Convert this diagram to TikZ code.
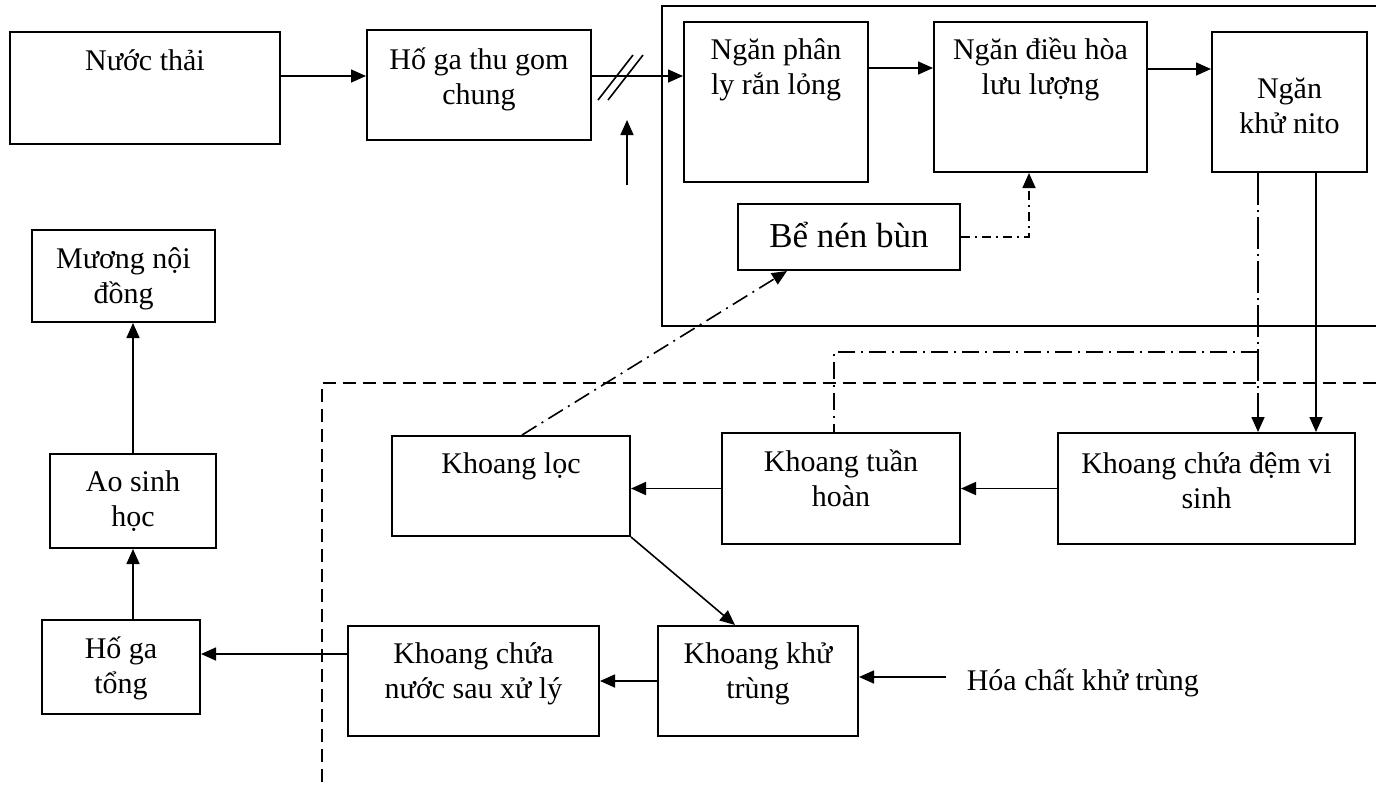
\documentclass[tikz,border=0pt]{standalone}
\usepackage{fontspec}
\setmainfont{Liberation Serif}
\usetikzlibrary{arrows.meta}

\tikzset{
	hop/.style = {draw, line width = 1pt, inner sep = 0pt},
	chu/.style = {font = \fontsize{15}{17.5}\selectfont, align = center, inner sep = 0pt, anchor = base},
	chamdai/.style = {dash pattern = on 16pt off 2.5pt on 1pt off 2.5pt},
	chamvua/.style = {dash pattern = on 8.5pt off 3pt on 1pt off 3pt},
	chamngan/.style = {dash pattern = on 4.5pt off 2.5pt on 1pt off 2.5pt},
	netdut/.style = {dash pattern = on 6.5pt off 3.5pt},
}

\begin{document}
\begin{tikzpicture}[x = 0.5pt, y = -0.5pt, line width = 0.8pt, > = {Triangle[length = 7.5pt, width = 6.5pt]}]

	\useasboundingbox (0, 0) rectangle (1376, 789);

	% Khung cua be xu ly
	\draw [line width = 1pt] (1376, 6) -- (662, 6) -- (662, 326) -- (1376, 326);
	\draw [netdut] (1376, 383) -- (322, 383) -- (322, 789);

	% Cac hop
	\node [hop, minimum width = 135pt, minimum height = 56pt] (nuoc) at (145, 88) {};
	\node [hop, minimum width = 112pt, minimum height = 55pt] (hoga) at (479, 85) {};
	\node [hop, minimum width = 92pt, minimum height = 80pt] (phanly) at (776, 102) {};
	\node [hop, minimum width = 106.5pt, minimum height = 75pt] (dieuhoa) at (1040.5, 97) {};
	\node [hop, minimum width = 77.5pt, minimum height = 70pt] (khunito) at (1289.5, 102) {};
	\node [hop, minimum width = 111pt, minimum height = 33pt] (benen) at (849, 237) {};
	\node [hop, minimum width = 91.5pt, minimum height = 46pt] (muong) at (123.5, 276) {};
	\node [hop, minimum width = 83pt, minimum height = 47pt] (aosinh) at (133, 501) {};
	\node [hop, minimum width = 79pt, minimum height = 47pt] (hogatong) at (121, 667) {};
	\node [hop, minimum width = 119pt, minimum height = 50pt] (loc) at (511, 486) {};
	\node [hop, minimum width = 119pt, minimum height = 55.5pt] (tuanhoan) at (841, 488.5) {};
	\node [hop, minimum width = 148.5pt, minimum height = 55.5pt] (dem) at (1206.5, 488.5) {};
	\node [hop, minimum width = 100pt, minimum height = 55pt] (khutrung) at (758, 681) {};
	\node [hop, minimum width = 125.5pt, minimum height = 55pt] (chuanuoc) at (473.5, 681) {};

	% Chu trong hop (base = dong cuoi)
	\node [chu] (nuoc-t) at (145, 70) {Nước thải};
	\node [chu] (hoga-t) at (479, 104) {Hố ga thu gom\\chung};
	\node [chu] (phanly-t) at (776, 94) {Ngăn phân\\ly rắn lỏng};
	\node [chu] (dieuhoa-t) at (1040.5, 94) {Ngăn điều hòa\\lưu lượng};
	\node [chu] (khunito-t) at (1289.5, 133) {Ngăn\\khử nito};
	\node [chu, font = \fontsize{17.5}{20}\selectfont] (benen-t) at (849, 247) {Bể nén bùn};
	\node [chu] (muong-t) at (123.5, 303) {Mương nội\\đồng};
	\node [chu] (aosinh-t) at (133, 526) {Ao sinh\\học};
	\node [chu] (hogatong-t) at (121, 693) {Hố ga\\tổng};
	\node [chu] (loc-t) at (511, 473) {Khoang lọc};
	\node [chu] (tuanhoan-t) at (841, 506) {Khoang tuần\\hoàn};
	\node [chu] (dem-t) at (1206.5, 508) {Khoang chứa đệm vi\\sinh};
	\node [chu] (khutrung-t) at (758, 698) {Khoang khử\\trùng};
	\node [chu] (chuanuoc-t) at (473.5, 698) {Khoang chứa\\nước sau xử lý};
	\node [chu, anchor = base west] (hoachat) at (966, 690) {Hóa chất khử trùng};

	% Diem dau cua cac mui ten
	\coordinate (c-nuoc) at ([yshift = 6pt] nuoc.east);
	\coordinate (c-hoga) at ([yshift = 4.5pt] hoga.east);
	\coordinate (c-phanly) at ([yshift = 17pt] phanly.east);
	\coordinate (c-dieuhoa) at ([yshift = 14pt] dieuhoa.east);
	\coordinate (c-kn1) at ([xshift = -15.75pt] khunito.south);
	\coordinate (c-kn2) at ([xshift = 13.25pt] khunito.south);
	\coordinate (c-nhanh) at (c-kn1 |- 0, 352);
	\coordinate (c-chuanuoc) at ([yshift = 13.5pt] chuanuoc.west);
	\coordinate (c-hoachat) at ([xshift = -10pt, yshift = 6.5pt] hoachat.base west);
	\coordinate (c-vao-duoi) at (627, 185);
	\coordinate (c-vao-tren) at (627, 120);

	\begin{scope}[->]

		\draw (c-nuoc) -- (c-nuoc -| hoga.west);
		\draw (c-hoga) -- (c-hoga -| phanly.west);
		\draw (c-vao-duoi) -- (c-vao-tren);
		\draw (c-phanly) -- (c-phanly -| dieuhoa.west);
		\draw (c-dieuhoa) -- (c-dieuhoa -| khunito.west);

		\draw [chamdai] (c-kn1) -- (c-kn1 |- dem.north);
		\draw (c-kn2) -- (c-kn2 |- dem.north);

		\draw (dem.west) -- (dem.west -| tuanhoan.east);
		\draw (tuanhoan.west) -- (tuanhoan.west -| loc.east);
		\draw (loc.south east) -- ([xshift = -11.5pt] khutrung.north);
		\draw (c-hoachat) -- (c-hoachat -| khutrung.east);
		\draw (khutrung.west) -- (khutrung.west -| chuanuoc.east);
		\draw (c-chuanuoc) -- (c-chuanuoc -| hogatong.east);
		\draw (aosinh.south |- hogatong.north) -- (aosinh.south);
		\draw (aosinh.north) -- (aosinh.north |- muong.south);

		\draw [chamvua] ([xshift = 5.5pt] loc.north) -- ([xshift = -31pt] benen.south);
		\draw [chamngan] (benen.east) -| ([xshift = -5.75pt] dieuhoa.south);

	\end{scope}

	\draw [chamvua] (c-nhanh) -| ([xshift = -3.5pt] tuanhoan.north);

	% Hai gach cheo
	\draw (598, 100) -- (633, 55);
	\draw (608, 100) -- (643, 55);

\end{tikzpicture}
\end{document}
